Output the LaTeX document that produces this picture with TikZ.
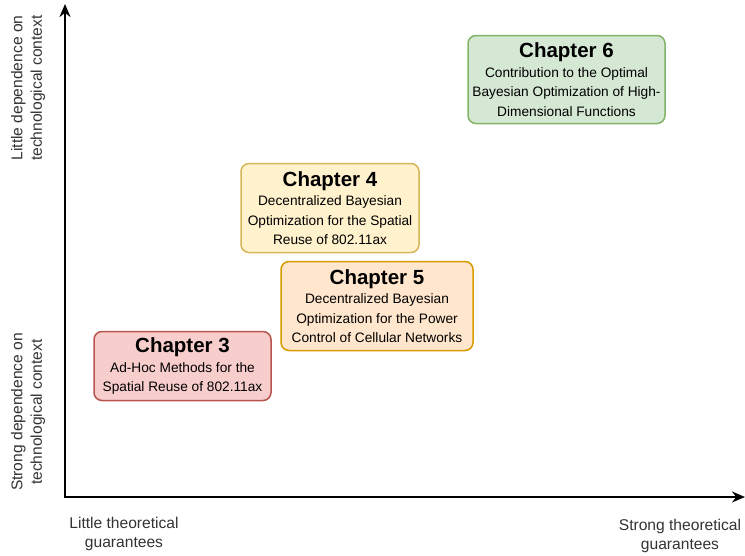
\documentclass[tikz,border=0pt]{standalone}
\usepackage{fontspec}
\setmainfont{Liberation Sans}
\usetikzlibrary{arrows.meta}
\tikzset{
  chapbox/.style={draw, rounded corners=8pt, line width=1.5pt, align=center, inner sep=0pt,
    font=\fontsize{13.7}{19.5}\selectfont},
  axislabel/.style={align=center, font=\fontsize{15.6}{19.5}\selectfont, text=black!80},
  axisline/.style={line width=2.5pt, line join=miter, {Stealth[length=13pt,width=11pt]}-{Stealth[length=13pt,width=11pt]}}
}
\definecolor{gfill}{HTML}{D5E8D4}\definecolor{gdraw}{HTML}{82B366}
\definecolor{yfill}{HTML}{FFF2CC}\definecolor{ydraw}{HTML}{D6B656}
\definecolor{ofill}{HTML}{FFE6CC}\definecolor{odraw}{HTML}{D79B00}
\definecolor{rfill}{HTML}{F8CECC}\definecolor{rdraw}{HTML}{B85450}
\newcommand{\chtitle}[1]{{\fontsize{20.5}{22}\selectfont\bfseries #1}\\[0pt]}
\begin{document}
\begin{tikzpicture}[x=1pt,y=-1pt]
\useasboundingbox (0,0) rectangle (745,555);
\coordinate (top) at (65,4);
\coordinate (origin) at (65,497);
\coordinate (right) at (745,497);
\draw[axisline] (top) -- (origin) -- (right);

\node[chapbox, fill=gfill, draw=gdraw, minimum width=197pt, minimum height=88pt] (c6) at (566.5,79.5)
  {\chtitle{Chapter 6}Contribution to the Optimal\\Bayesian Optimization of High-\\Dimensional Functions};
\node[chapbox, fill=yfill, draw=ydraw, minimum width=178pt, minimum height=89pt] (c4) at (330,208)
  {\chtitle{Chapter 4}Decentralized Bayesian\\Optimization for the Spatial\\Reuse of 802.11ax};
\node[chapbox, fill=ofill, draw=odraw, minimum width=192pt, minimum height=89pt] (c5) at (377,306)
  {\chtitle{Chapter 5}Decentralized Bayesian\\Optimization for the Power\\Control of Cellular Networks};
\node[chapbox, fill=rfill, draw=rdraw, minimum width=177pt, minimum height=69pt] (c3) at (182.5,366)
  {\chtitle{Chapter 3}Ad-Hoc Methods for the\\Spatial Reuse of 802.11ax};

\node[axislabel, rotate=90] (ly1) at (28,88) {Little dependence on\\technological context};
\node[axislabel, rotate=90] (ly2) at (28,412) {Strong dependence on\\technological context};
\node[axislabel] (lx1) at (124,534) {Little theoretical\\guarantees};
\node[axislabel] (lx2) at (680,536) {Strong theoretical\\guarantees};
\end{tikzpicture}
\end{document}
